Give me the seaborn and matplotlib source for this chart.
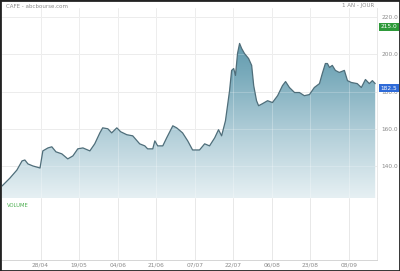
import numpy as np
import pandas as pd
import matplotlib
matplotlib.use("Agg")
import matplotlib.pyplot as plt
import seaborn as sns
from matplotlib.colors import LinearSegmentedColormap
from matplotlib.patches import Rectangle

# ---- data ----
days = [0.0, 3.1, 5.8, 7.8, 8.9, 10.1, 12.0, 14.8, 15.9, 17.9, 19.4, 21.0, 23.3, 25.6,
        27.6, 29.5, 31.5, 34.2, 36.1, 38.1, 39.2, 41.2, 42.7, 44.7, 46.2, 48.6, 50.9,
        53.6, 55.6, 56.7, 58.7, 59.5, 60.6, 62.6, 64.1, 66.5, 68.0, 70.3, 72.3, 74.2,
        76.9, 78.9, 80.8, 82.8, 84.3, 85.5, 87.0, 88.6, 89.4, 90.2, 90.9, 91.7, 92.5,
        93.3, 94.4, 96.0, 97.2, 98.0, 99.1, 99.9, 101.4, 103.4, 105.3, 107.3, 109.2,
        110.4, 111.9, 113.9, 115.8, 117.7, 119.7, 121.6, 123.6, 124.7, 125.9, 126.7,
        127.5, 128.6, 129.8, 131.3, 133.3, 134.5, 136.0, 138.3, 139.9, 141.5, 143.0,
        144.2, 145.3]
prices = [129.2, 133.5, 137.8, 142.7, 143.2, 141.1, 140.0, 138.9, 148.1, 149.7, 150.3,
          147.6, 146.5, 143.8, 145.4, 149.2, 149.7, 148.1, 151.9, 157.8, 160.5, 160.0,
          157.8, 160.5, 158.4, 156.8, 156.2, 151.9, 150.8, 149.2, 149.2, 153.5, 150.8,
          150.8, 155.1, 161.6, 160.5, 157.8, 153.5, 148.6, 148.6, 151.9, 150.8, 155.1,
          159.5, 156.2, 164.3, 180.5, 191.4, 192.4, 188.7, 200.5, 205.9, 203.2, 200.5,
          197.8, 194.1, 183.2, 175.1, 172.4, 173.5, 175.1, 174.1, 177.8, 183.2, 185.4,
          182.2, 179.5, 179.5, 177.8, 178.4, 182.2, 184.3, 189.7, 195.1, 195.1, 193.0,
          194.1, 191.4, 190.3, 191.4, 185.9, 184.9, 184.3, 182.2, 186.5, 184.3, 185.9,
          184.3]
price_ticks = [140, 160, 180, 200, 220]
x_tick_pos = [15, 30, 45, 60, 75, 90, 105, 120, 135]
x_tick_labels = ["28/04", "19/05", "04/06", "21/06", "07/07", "22/07", "06/08", "23/08", "08/09"]
high_label = "215.0"
last_label = "182.5"
title_left = "CAFE - abcbourse.com"
title_right = "1 AN - JOUR"
volume_label = "VOLUME"

df = pd.DataFrame({"day": days, "price": prices})

sns.set_theme(style="white")
plt.rcParams["font.family"] = ["DejaVu Sans"]

fig = plt.figure(figsize=(4.0, 2.71), dpi=100)
fig.patch.set_facecolor("white")

YMIN, YMAX = 122.7, 224.9
XMIN, XMAX = 0, 146

ax = fig.add_axes([0.005, 0.269, 0.9375, 0.701])
axv = fig.add_axes([0.005, 0.041, 0.9375, 0.228], sharex=ax)

grid_c = "#e4e4e4"
for a in (ax, axv):
    a.set_facecolor("white")
    for s in a.spines.values():
        s.set_visible(False)
    for xp in x_tick_pos:
        a.axvline(xp, color=grid_c, lw=0.6, zorder=0)
for xp in x_tick_pos:
    ax.axvline(xp, color="white", lw=0.6, alpha=0.3, zorder=2)
for yp in price_ticks:
    ax.axhline(yp, color=grid_c, lw=0.6, zorder=0)
    ax.axhline(yp, color="white", lw=0.6, alpha=0.25, zorder=2)

# gradient fill under the line
cmap = LinearSegmentedColormap.from_list("g", ["#e6f0f3", "#b3cfd9", "#77a9ba", "#4a8aa0"])
grad = np.linspace(0, 1, 256).reshape(-1, 1)
poly = ax.fill_between(df["day"], df["price"], YMIN, color="none", lw=0)
img = ax.imshow(grad, extent=[XMIN, XMAX, YMIN, YMAX], origin="lower", aspect="auto",
                cmap=cmap, zorder=1)
img.set_clip_path(poly.get_paths()[0], transform=ax.transData)

sns.lineplot(data=df, x="day", y="price", ax=ax, color="#4f6e7a", lw=0.9, zorder=3)

ax.set_xlim(XMIN, XMAX)
ax.set_ylim(YMIN, YMAX)
ax.set_xlabel("")
ax.set_ylabel("")
ax.yaxis.tick_right()
ax.set_yticks(price_ticks)
ax.set_yticklabels([f"{v:.1f}" for v in price_ticks], fontsize=4.2, color="#8a8a8a")
ax.tick_params(axis="y", length=0, pad=3)
ax.tick_params(axis="x", bottom=False, labelbottom=False)

axv.set_ylim(0, 1)
axv.set_yticks([])
axv.set_xticks(x_tick_pos)
axv.set_xticklabels(x_tick_labels, fontsize=4.2, color="#8a8a8a")
axv.tick_params(axis="x", length=0, pad=2)
axv.spines["bottom"].set_visible(True)
axv.spines["bottom"].set_color("#cfcfcf")
axv.spines["bottom"].set_linewidth(0.6)
axv.spines["right"].set_visible(True)
axv.spines["right"].set_color("#e4e4e4")
axv.spines["right"].set_linewidth(0.6)
ax.spines["right"].set_visible(True)
ax.spines["right"].set_color("#e4e4e4")
ax.spines["right"].set_linewidth(0.6)
axv.text(0.012, 0.92, volume_label, transform=axv.transAxes, fontsize=3.8,
         color="#4caf50", va="top", ha="left")

# value labels on the right
fig.text(0.951, 1 - 27 / 271, high_label, fontsize=4.2, color="white", va="center", ha="left",
         bbox=dict(boxstyle="square,pad=0.25", fc="#2e9a3a", ec="none"))
fig.text(0.951, 1 - 88 / 271, last_label, fontsize=4.2, color="white", va="center", ha="left",
         bbox=dict(boxstyle="square,pad=0.25", fc="#2f6bd8", ec="none"))

fig.text(0.015, 1 - 6 / 271, title_left, fontsize=4.0, color="#8a8a8a", va="center", ha="left")
fig.text(0.935, 1 - 6 / 271, title_right, fontsize=4.0, color="#8a8a8a", va="center", ha="right")

# outer frame
fig.patches.append(Rectangle((0, 0), 1, 1, transform=fig.transFigure, fill=False,
                             ec="#222222", lw=2.0, zorder=10))

fig.savefig("out.png", dpi=100)
